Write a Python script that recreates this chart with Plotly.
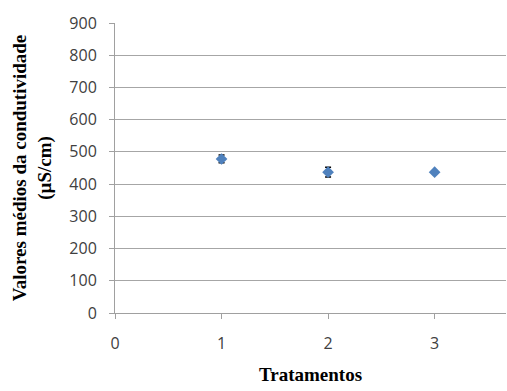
import plotly.graph_objects as go

tratamentos = [1, 2, 3]
condutividade = [478, 437, 437]
erro = [12, 15, 2]

y_ticks = [0, 100, 200, 300, 400, 500, 600, 700, 800, 900]
x_ticks = [0, 1, 2, 3]

fig = go.Figure()
fig.add_trace(go.Scatter(
    x=tratamentos, y=condutividade, mode="markers",
    marker=dict(symbol="diamond", size=9, color="#4F81BD"),
    error_y=dict(type="data", array=erro, visible=True, color="black", thickness=1.5, width=3),
    showlegend=False,
))

title_font = dict(family="Liberation Serif, Times New Roman, serif", size=19, color="black")

fig.update_layout(
    width=507, height=391,
    margin=dict(l=115, r=1, t=23, b=78),
    paper_bgcolor="white", plot_bgcolor="white",
    font=dict(family="Open Sans, Liberation Sans, sans-serif", size=16, color="#404040"),
    xaxis=dict(
        range=[0, 3.67], tickvals=x_ticks, ticks="outside", ticklen=5, tickcolor="#A0A0A0",
        showgrid=False, zeroline=False, showline=True, linecolor="#A0A0A0", linewidth=1,
        ticklabelstandoff=11,
        title=dict(text="<b>Tratamentos</b>", font=title_font, standoff=14),
        tickfont=dict(size=16, color="#404040"),
    ),
    yaxis=dict(
        range=[0, 900], tickvals=y_ticks, ticks="outside", ticklen=5, tickcolor="#A0A0A0",
        showgrid=True, gridcolor="#A6A6A6", gridwidth=1, zeroline=False,
        showline=True, linecolor="#A0A0A0", linewidth=1,
        ticklabelstandoff=9,
        title=dict(text="<b>Valores médios da condutividade<br>(µS/cm)</b>", font=title_font, standoff=12),
        tickfont=dict(size=16, color="#404040"),
    ),
)

fig.write_html(
    "out.html",
    config={"displayModeBar": False},
    post_script="document.body.style.margin='0';document.body.style.overflow='hidden';",
)
